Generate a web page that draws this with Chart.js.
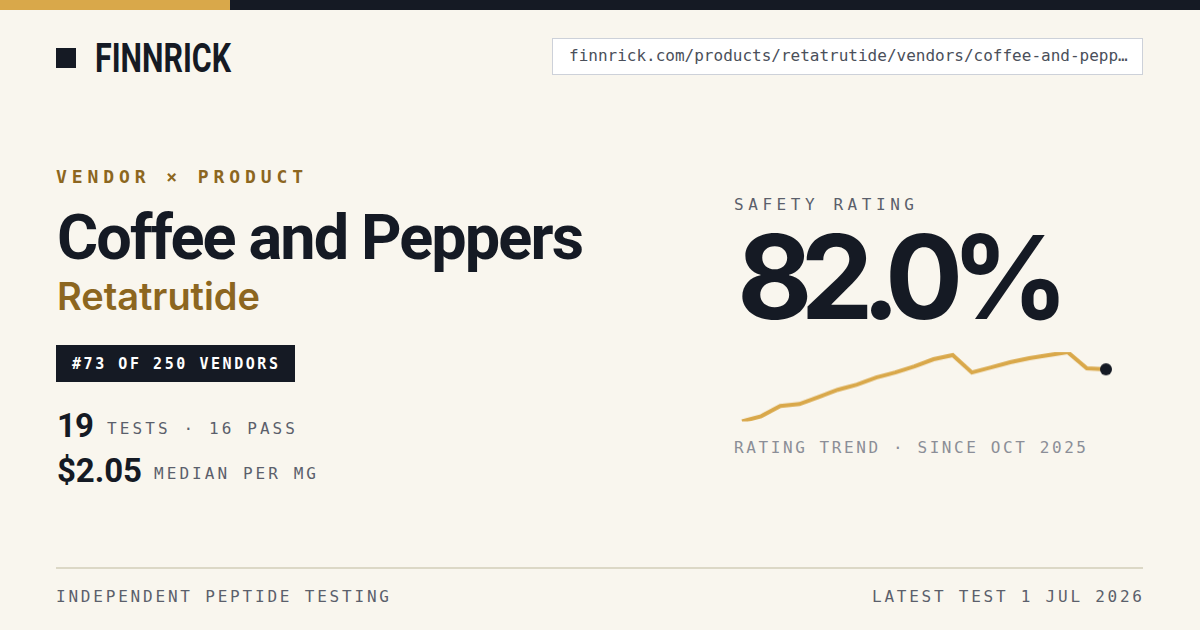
<!DOCTYPE html>
<html>
<head>
<meta charset="utf-8">
<script src="https://cdn.jsdelivr.net/npm/chart.js@4.4.1/dist/chart.umd.min.js"></script>
<style>
  html,body{margin:0;padding:0;}
  body{width:1200px;height:630px;background:#f9f6ee;position:relative;overflow:hidden;}
  .abs{position:absolute;white-space:nowrap;line-height:1;}
  .mono{font-family:"DejaVu Sans Mono",monospace;}
  .sans{font-family:Inter,"Noto Sans",sans-serif;}
  .rob{font-family:Roboto,Inter,sans-serif;}
  #barGold{left:0;top:0;width:230px;height:10px;background:#d9a84a;}
  #barDark{left:230px;top:0;width:970px;height:10px;background:#151a24;}
  #logoSq{left:56px;top:48px;width:20px;height:20px;background:#151a24;}
  #logo{left:95px;top:37.5px;font-family:Roboto,sans-serif;font-weight:700;font-size:41px;color:#151a24;transform-origin:0 0;}
  #urlBox{left:552px;top:38px;width:589px;height:35px;background:#fff;border:1px solid #cdd1d9;}
  #url{left:569px;top:48.2px;font-size:16px;color:#4a4f5a;}
  #kicker{left:56px;top:168.3px;font-size:18px;font-weight:700;color:#8c6620;}
  #vendor{left:57px;top:205.5px;font-size:63px;font-weight:700;color:#151a24;}
  #product{left:57px;top:276.5px;font-size:38px;font-weight:600;color:#8c6620;}
  #badge{left:56px;top:345px;width:239px;height:37px;background:#151a24;}
  #badgeTxt{left:72px;top:356.6px;font-size:15px;font-weight:700;color:#ffffff;}
  #tests{left:57px;top:409.3px;font-size:33px;font-weight:700;color:#151a24;}
  #testsLbl{left:107px;top:420.8px;font-size:16px;color:#5b5f6b;}
  #price{left:57px;top:454.3px;font-size:33px;font-weight:700;color:#151a24;}
  #priceLbl{left:154px;top:466px;font-size:16px;color:#5b5f6b;}
  #safetyLbl{left:734px;top:196.5px;font-size:16px;color:#5b5f6b;}
  #rating{left:737px;top:219.1px;font-size:116px;font-weight:700;color:#151a24;}
  #trendLbl{left:734px;top:439.8px;font-size:16px;color:#8b8e97;}
  #rule{left:56px;top:567px;width:1087px;height:2px;background:#dcd8c6;}
  #footL{left:56px;top:588.8px;font-size:16px;color:#5b5f6b;}
  #footR{left:872px;top:588.8px;font-size:16px;color:#5b5f6b;}
  #spark{left:734px;top:344.3px;width:380px;height:84.4px;}
</style>
</head>
<body>
<div class="abs" id="barGold"></div>
<div class="abs" id="barDark"></div>
<div class="abs" id="logoSq"></div>
<div class="abs" id="logo" data-w="136" data-mode="scale">FINNRICK</div>
<div class="abs" id="urlBox"></div>
<div class="abs mono" id="url">finnrick.com/products/retatrutide/vendors/coffee-and-pepp…</div>

<div class="abs mono" id="kicker" data-w="247">VENDOR × PRODUCT</div>
<div class="abs rob" id="vendor" data-w="527">Coffee and Peppers</div>
<div class="abs sans" id="product" data-w="203">Retatrutide</div>
<div class="abs" id="badge"></div>
<div class="abs mono" id="badgeTxt" data-w="206">#73 OF 250 VENDORS</div>
<div class="abs rob" id="tests" data-w="37">19</div>
<div class="abs mono" id="testsLbl" data-w="188">TESTS · 16 PASS</div>
<div class="abs rob" id="price" data-w="85">$2.05</div>
<div class="abs mono" id="priceLbl" data-w="162">MEDIAN PER MG</div>

<div class="abs mono" id="safetyLbl" data-w="180">SAFETY RATING</div>
<div class="abs sans" id="rating" data-w="332">82.0%</div>
<div class="abs" id="spark"><canvas id="c"></canvas></div>
<div class="abs mono" id="trendLbl" data-w="352">RATING TREND · SINCE OCT 2025</div>

<div class="abs" id="rule"></div>
<div class="abs mono" id="footL" data-w="333">INDEPENDENT PEPTIDE TESTING</div>
<div class="abs mono" id="footR" data-w="270">LATEST TEST 1 JUL 2026</div>

<script>
// Rating trend (safety rating %, oldest to latest test)
const testIndex = ["1","2","3","4","5","6","7","8","9","10","11","12","13","14","15","16","17","18","19","20"];
const ratingValues = [76.9, 77.4, 78.4, 78.6, 79.3, 80.0, 80.5, 81.2, 81.7, 82.3, 83.0, 83.4, 81.7, 82.2, 82.7, 83.1, 83.4, 83.7, 82.1, 82.0];
const yMin = 76.9;
const yMax = 83.7;

// fit text widths to the reference
document.querySelectorAll('[data-w]').forEach(el => {
  const target = parseFloat(el.dataset.w);
  const txt = el.textContent;
  const n = [...txt].length;
  const range = document.createRange();
  range.selectNodeContents(el);
  const w = range.getBoundingClientRect().width;
  if (el.dataset.mode === 'scale') {
    el.style.transform = 'scaleX(' + (target / w) + ')';
  } else if (n > 1) {
    el.style.letterSpacing = ((target - w) / (n - 1)) + 'px';
  }
});

const last = ratingValues.length - 1;
new Chart(document.getElementById('c'), {
  type: 'line',
  data: {
    labels: testIndex,
    datasets: [{
      data: ratingValues,
      borderColor: '#d9a84a',
      borderWidth: 4,
      tension: 0,
      fill: false,
      pointRadius: ctx => ctx.dataIndex === last ? 6 : 0,
      pointBackgroundColor: '#151a24',
      pointBorderWidth: 0,
      pointHoverRadius: 0
    }]
  },
  options: {
    responsive: true,
    maintainAspectRatio: false,
    animation: false,
    layout: { padding: 8 },
    plugins: { legend: { display: false }, tooltip: { enabled: false } },
    scales: {
      x: { display: false },
      y: { display: false, min: yMin, max: yMax }
    }
  }
});
</script>
</body>
</html>
